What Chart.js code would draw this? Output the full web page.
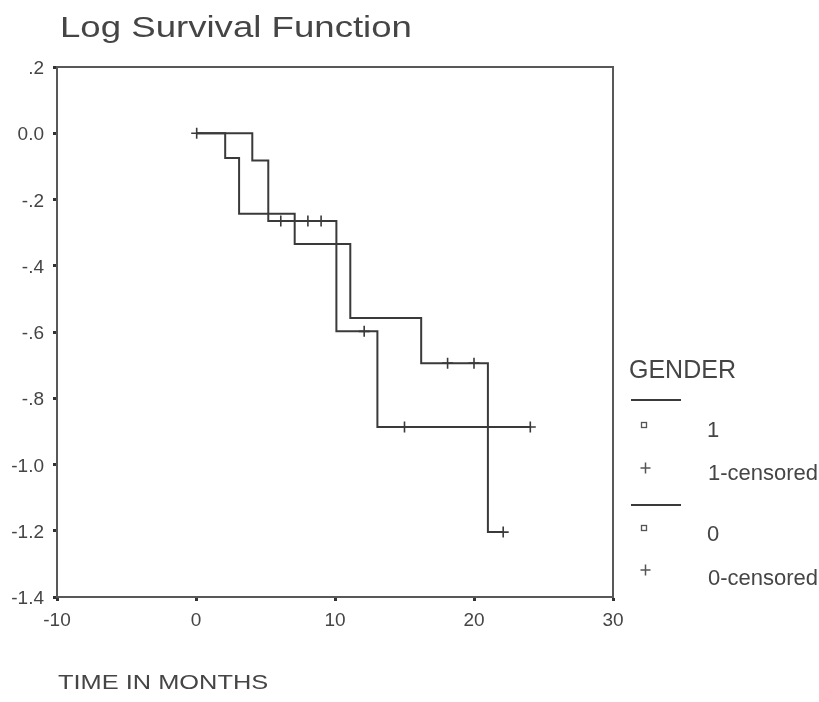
<!DOCTYPE html>
<html>
<head>
<meta charset="utf-8">
<script src="https://cdn.jsdelivr.net/npm/chart.js@4.4.1/dist/chart.umd.min.js"></script>
<style>
  html, body { margin: 0; padding: 0; background: #ffffff; }
  #wrap { width: 819px; height: 702px; }
</style>
</head>
<body>
<div id="wrap"><canvas id="c" width="819" height="702"></canvas></div>
<script>
// ---- data ----
const chartTitle = 'Log Survival Function';
const xAxisTitle = 'TIME IN MONTHS';
const legendTitle = 'GENDER';
const groupNames = ['1', '0'];
const censoredNames = ['1-censored', '0-censored'];

// group "1": step points (time of event, log survival after event)
const g1Time = [0, 2.1, 3.1, 7.1, 11.1, 16.2, 21.0, 22.1];
const g1LogSurv = [0, -0.075, -0.243, -0.334, -0.558, -0.694, -1.204, -1.204];
const g1CensTime = [18.1, 20.0, 22.1];
const g1CensVal = [-0.694, -0.694, -1.204];

// group "0"
const g0Time = [0, 4.05, 5.2, 10.1, 13.05, 24.05];
const g0LogSurv = [0, -0.082, -0.265, -0.598, -0.887, -0.887];
const g0CensTime = [0.05, 6.1, 8.05, 9.0, 12.1, 15.0, 24.05];
const g0CensVal = [0, -0.265, -0.265, -0.265, -0.598, -0.887, -0.887];

// axes
const xTickValues = [-10, 0, 10, 20, 30];
const xTickLabels = ['-10', '0', '10', '20', '30'];
const yTickValues = [-1.4, -1.2, -1.0, -0.8, -0.6, -0.4, -0.2, 0.0, 0.2];
const yTickLabels = ['-1.4', '-1.2', '-1.0', '-.8', '-.6', '-.4', '-.2', '0.0', '.2'];

// ---- helpers ----
const FONT = '"Liberation Sans", Arial, Helvetica, sans-serif';
const TEXT = '#454545';
const LINE = '#3a3a3a';
const FRAME = '#585858';
const zip = (xs, ys) => xs.map((x, i) => ({ x: x, y: ys[i] }));

function stretchText(ctx, text, x, y, size, sx) {
  ctx.save();
  ctx.font = size + 'px ' + FONT;
  ctx.fillStyle = TEXT;
  ctx.textAlign = 'left';
  ctx.textBaseline = 'alphabetic';
  ctx.translate(x, y);
  ctx.scale(sx, 1);
  ctx.fillText(text, 0, 0);
  ctx.restore();
}

const decor = {
  id: 'decor',
  beforeDraw(chart) {
    const ctx = chart.ctx;
    ctx.save();
    ctx.fillStyle = '#ffffff';
    ctx.fillRect(0, 0, chart.width, chart.height);
    ctx.restore();
  },
  beforeDatasetsDraw(chart) {
    const ctx = chart.ctx, a = chart.chartArea;
    ctx.save();
    ctx.strokeStyle = FRAME;
    ctx.lineWidth = 2;
    ctx.strokeRect(a.left, a.top, a.right - a.left, a.bottom - a.top);
    ctx.restore();
  },
  afterDraw(chart) {
    const ctx = chart.ctx, a = chart.chartArea;
    // title and axis title
    stretchText(ctx, chartTitle, 60, 37, 30, 1.22);
    stretchText(ctx, xAxisTitle, a.left + 1, 689, 20, 1.27);
    // legend
    stretchText(ctx, legendTitle, 629, 378, 25, 1.0);
    const rows = [
      { lineY: 400, sqY: 425, labY: 437, plusY: 468, cenY: 480 },
      { lineY: 505, sqY: 528, labY: 541, plusY: 570, cenY: 585 }
    ];
    rows.forEach((r, i) => {
      ctx.save();
      ctx.strokeStyle = LINE;
      ctx.lineWidth = 2;
      ctx.beginPath();
      ctx.moveTo(631, r.lineY); ctx.lineTo(681, r.lineY);
      ctx.stroke();
      ctx.lineWidth = 1.3;
      ctx.strokeStyle = '#555';
      ctx.strokeRect(641.5, r.sqY - 2.5, 5, 5);
      ctx.lineWidth = 1.5;
      ctx.beginPath();
      ctx.moveTo(640.5, r.plusY); ctx.lineTo(650.5, r.plusY);
      ctx.moveTo(645.5, r.plusY - 5.5); ctx.lineTo(645.5, r.plusY + 5.5);
      ctx.stroke();
      ctx.restore();
      stretchText(ctx, groupNames[i], 707, r.labY, 22, 1.0);
      stretchText(ctx, censoredNames[i], 708, r.cenY, 22, 1.0);
    });
  }
};

const censorStyle = {
  type: 'scatter', showLine: false, pointStyle: 'cross',
  pointRadius: 5.5, pointBorderWidth: 1.6,
  pointBorderColor: LINE, pointBackgroundColor: LINE
};

new Chart(document.getElementById('c'), {
  type: 'line',
  data: {
    datasets: [
      { label: groupNames[0], data: zip(g1Time, g1LogSurv), stepped: 'before',
        borderColor: LINE, borderWidth: 2, pointRadius: 0, fill: false },
      Object.assign({ label: censoredNames[0], data: zip(g1CensTime, g1CensVal) }, censorStyle),
      { label: groupNames[1], data: zip(g0Time, g0LogSurv), stepped: 'before',
        borderColor: LINE, borderWidth: 2, pointRadius: 0, fill: false },
      Object.assign({ label: censoredNames[1], data: zip(g0CensTime, g0CensVal) }, censorStyle)
    ]
  },
  options: {
    responsive: false,
    animation: false,
    devicePixelRatio: 1,
    layout: { padding: { top: 67, right: 206, left: 0, bottom: 0 } },
    plugins: { legend: { display: false }, title: { display: false }, tooltip: { enabled: false } },
    scales: {
      x: {
        type: 'linear', min: -10, max: 30,
        afterBuildTicks: s => { s.ticks = xTickValues.map(v => ({ value: v })); },
        afterFit: s => { s.height = 105; },
        ticks: {
          callback: (v, i) => xTickLabels[i],
          color: TEXT, font: { family: FONT, size: 19 }, padding: 8, maxRotation: 0
        },
        grid: { drawOnChartArea: false, drawTicks: true, tickLength: 4, tickWidth: 3, tickColor: '#333' },
        border: { display: true, color: FRAME, width: 2 }
      },
      y: {
        type: 'linear', min: -1.4, max: 0.2,
        afterBuildTicks: s => { s.ticks = yTickValues.map(v => ({ value: v })); },
        afterFit: s => { s.width = 57; },
        ticks: {
          callback: (v, i) => yTickLabels[i],
          color: TEXT, font: { family: FONT, size: 19 }, padding: 9, labelOffset: 2
        },
        grid: { drawOnChartArea: false, drawTicks: true, tickLength: 4, tickWidth: 3, tickColor: '#333' },
        border: { display: true, color: FRAME, width: 2 }
      }
    }
  },
  plugins: [decor]
});
</script>
</body>
</html>
